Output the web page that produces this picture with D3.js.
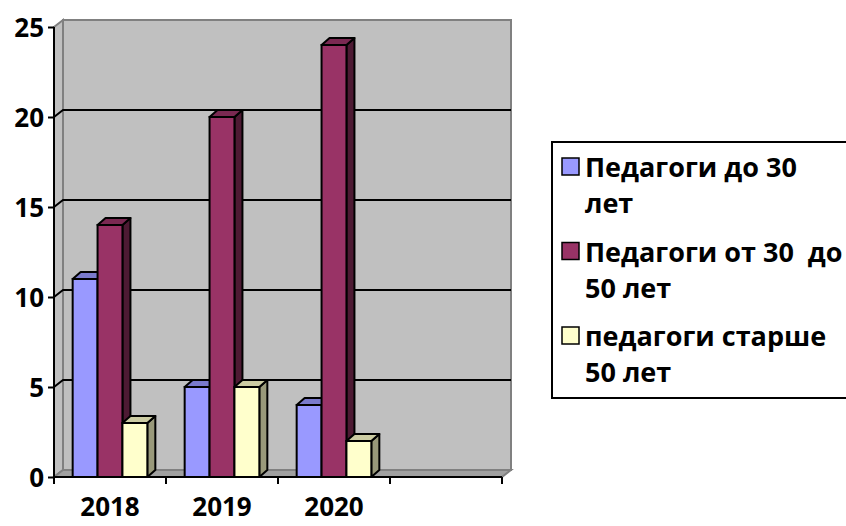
<!DOCTYPE html>
<html lang="ru">
<head>
<meta charset="UTF-8">
<title>Педагоги</title>
<style>
  body { margin: 0; background: #fff; }
  svg text { font-family: "Open Sans", "DejaVu Sans", sans-serif; font-weight: bold; fill: #000; }
</style>
</head>
<body>
<svg id="chart" width="846" height="526"></svg>
<script src="https://d3js.org/d3.v7.min.js"></script>
<script>
// данные
var categories = ["2018", "2019", "2020", ""];
var series = ["Педагоги до 30 лет", "Педагоги от 30  до 50 лет", "педагоги старше 50 лет"];
var legendLines = [["Педагоги до 30", "лет"], ["Педагоги от 30  до", "50 лет"], ["педагоги старше", "50 лет"]];
var under30 = [11, 5, 4];
var from30to50 = [14, 20, 24];
var over50 = [3, 5, 2];
var yTicks = [0, 5, 10, 15, 20, 25];

var colors = ["#9999ff", "#993366", "#ffffcc"];
var sideColors = ["#5c5c99", "#4d1a33", "#99997a"];
var topColors = ["#7a7acc", "#7a2952", "#ccccA3"];

var values = [under30, from30to50, over50];

var svg = d3.select("#chart");

var x0 = d3.scaleBand().domain(categories).range([54, 502]).paddingInner(0).paddingOuter(0);
var x1 = d3.scaleBand().domain(series).range([0, x0.bandwidth()]).paddingInner(0).paddingOuter(0.75);
var y = d3.scaleLinear().domain([0, 25]).range([477, 27]);

var wdx = 9, wdy = -7;   // глубина стенок
var bdx = 8, bdy = -7;   // глубина столбиков

var left = x0.range()[0], right = x0.range()[1];

// левая стенка
svg.append("path")
  .attr("d", "M" + left + "," + y(25) + "L" + (left + wdx) + "," + (y(25) + wdy) +
    "L" + (left + wdx) + "," + (y(0) + wdy) + "L" + left + "," + y(0) + "Z")
  .attr("fill", "#c0c0c0").attr("stroke", "#808080").attr("stroke-width", 2);

// задняя стенка
svg.append("rect")
  .attr("x", left + wdx).attr("y", y(25) + wdy)
  .attr("width", right - left).attr("height", y(0) - y(25))
  .attr("fill", "#c0c0c0").attr("stroke", "#808080").attr("stroke-width", 2);

// пол
svg.append("path")
  .attr("d", "M" + left + "," + y(0) + "L" + (left + wdx) + "," + (y(0) + wdy) +
    "L" + (right + wdx) + "," + (y(0) + wdy) + "L" + right + "," + y(0) + "Z")
  .attr("fill", "#a0a0a0").attr("stroke", "#808080").attr("stroke-width", 2);

// линии сетки
var grid = yTicks.filter(function(d) { return d > 0 && d < 25; });
svg.selectAll(".grid").data(grid).enter().append("path")
  .attr("class", "grid")
  .attr("d", function(d) {
    return "M" + left + "," + y(d) + "L" + (left + wdx) + "," + (y(d) + wdy) + "L" + (right + wdx) + "," + (y(d) + wdy);
  })
  .attr("fill", "none").attr("stroke", "#000").attr("stroke-width", 2);

// столбики
categories.forEach(function(cat, ci) {
  series.forEach(function(s, si) {
    var v = values[si][ci];
    if (v === undefined) return;
    var bx = x0(cat) + x1(s), bw = x1.bandwidth(), by = y(v), b0 = y(0);
    var g = svg.append("g");
    g.append("path")
      .attr("d", "M" + (bx + bw) + "," + by + "L" + (bx + bw + bdx) + "," + (by + bdy) +
        "L" + (bx + bw + bdx) + "," + (b0 + bdy) + "L" + (bx + bw) + "," + b0 + "Z")
      .attr("fill", sideColors[si]).attr("stroke", "#000").attr("stroke-width", 2).attr("stroke-linejoin", "round");
    g.append("path")
      .attr("d", "M" + bx + "," + by + "L" + (bx + bdx) + "," + (by + bdy) +
        "L" + (bx + bw + bdx) + "," + (by + bdy) + "L" + (bx + bw) + "," + by + "Z")
      .attr("fill", topColors[si]).attr("stroke", "#000").attr("stroke-width", 2).attr("stroke-linejoin", "round");
    g.append("rect")
      .attr("x", bx).attr("y", by).attr("width", bw).attr("height", b0 - by)
      .attr("fill", colors[si]).attr("stroke", "#000").attr("stroke-width", 2);
  });
});

// ось Y
var yAxis = d3.axisLeft(y).tickValues(yTicks).tickSize(6).tickPadding(4);
var gy = svg.append("g").attr("transform", "translate(" + left + ",0)").call(yAxis);
gy.select(".domain").attr("stroke", "#000").attr("stroke-width", 2).attr("d", "M0," + y(25) + "V" + y(0));
gy.selectAll(".tick line").attr("stroke", "#000").attr("stroke-width", 2);
gy.selectAll(".tick text").attr("font-size", 26).attr("dy", "0.36em")
  .style("font-family", "'Open Sans', sans-serif").style("font-weight", "bold");

// ось X
var xAxis = d3.axisBottom(x0).tickSize(0).tickPadding(21);
var gx = svg.append("g").attr("transform", "translate(0," + y(0) + ")").call(xAxis);
gx.select(".domain").attr("stroke", "#000").attr("stroke-width", 2).attr("d", "M" + left + ",0H" + right);
gx.selectAll(".tick text").attr("font-size", 26)
  .style("font-family", "'Open Sans', sans-serif").style("font-weight", "bold");
svg.selectAll(".xtick").data(categories.concat(["end"])).enter().append("line")
  .attr("class", "xtick")
  .attr("x1", function(d, i) { return i < categories.length ? x0(d) : right; })
  .attr("x2", function(d, i) { return i < categories.length ? x0(d) : right; })
  .attr("y1", y(0)).attr("y2", y(0) + 7)
  .attr("stroke", "#000").attr("stroke-width", 2);

// легенда
var legend = svg.append("g");
legend.append("rect")
  .attr("x", 552).attr("y", 142).attr("width", 320).attr("height", 256)
  .attr("fill", "#fff").attr("stroke", "#000").attr("stroke-width", 2);
var item = legend.selectAll(".item").data(series).enter().append("g")
  .attr("class", "item")
  .attr("transform", function(d, i) { return "translate(562," + (158 + i * 84.5) + ")"; });
item.append("rect")
  .attr("width", 17).attr("height", 17)
  .attr("fill", function(d, i) { return colors[i]; })
  .attr("stroke", "#000").attr("stroke-width", 1.5);
var txt = item.append("text").attr("font-size", 27).style("white-space", "pre");
txt.selectAll("tspan").data(function(d, i) { return legendLines[i]; }).enter().append("tspan")
  .attr("x", 23)
  .attr("y", function(d, j) { return 19 + j * 36; })
  .text(function(d) { return d; });
</script>
</body>
</html>
